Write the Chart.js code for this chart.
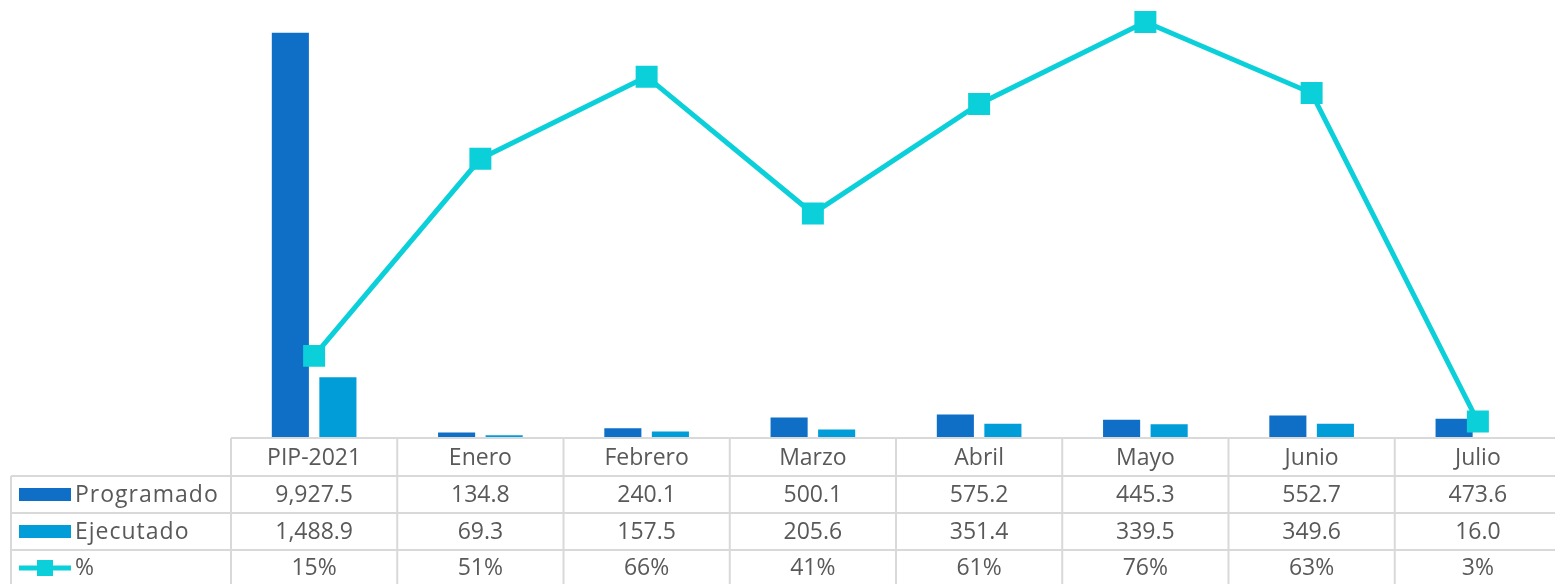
<!DOCTYPE html>
<html>
<head>
<meta charset="utf-8">
<script src="https://cdn.jsdelivr.net/npm/chart.js@4"></script>
<style>
  html, body { margin: 0; padding: 0; background: #fff; overflow: hidden; }
  canvas { display: block; }
</style>
</head>
<body>
<canvas id="chart" width="1561" height="584"></canvas>
<script>
var categories = ["PIP-2021", "Enero", "Febrero", "Marzo", "Abril", "Mayo", "Junio", "Julio"];
var programado = [9927.5, 134.8, 240.1, 500.1, 575.2, 445.3, 552.7, 473.6];
var ejecutado = [1488.9, 69.3, 157.5, 205.6, 351.4, 339.5, 349.6, 16.0];
var porcentaje = [15, 51, 66, 41, 61, 76, 63, 3];

var colProg = "#0F6FC6";
var colEjec = "#009DD9";
var colPct = "#0BD0D9";
var gridCol = "#D9D9D9";
var textCol = "#595959";
var fontFam = "'Open Sans', sans-serif";

function fmt(v) {
    return v.toLocaleString("en-US", { minimumFractionDigits: 1, maximumFractionDigits: 1 });
}

// data table under the plot, columns taken from the x scale
var dataTable = {
    id: "dataTable",
    afterDraw: function(chart) {
        var ctx = chart.ctx;
        var x = chart.scales.x;
        var area = chart.chartArea;
        var step = (area.right - area.left) / categories.length;
        var rowTops = [438, 476, 513, 550];
        var leftX = 11;
        ctx.save();
        ctx.strokeStyle = gridCol;
        ctx.lineWidth = 2;
        ctx.beginPath();
        ctx.moveTo(area.left, rowTops[0]); ctx.lineTo(area.right, rowTops[0]);
        for (var r = 1; r < rowTops.length; r++) {
            ctx.moveTo(leftX, rowTops[r]); ctx.lineTo(area.right, rowTops[r]);
        }
        for (var i = 0; i < categories.length; i++) {
            var vx = area.left + i * step;
            ctx.moveTo(vx, rowTops[0]); ctx.lineTo(vx, 584);
        }
        ctx.moveTo(leftX, rowTops[1]); ctx.lineTo(leftX, 584);
        ctx.stroke();

        ctx.fillStyle = textCol;
        ctx.font = "23px " + fontFam;
        ctx.textAlign = "center";
        ctx.textBaseline = "middle";
        for (var c = 0; c < categories.length; c++) {
            var cx = x.getPixelForValue(c);
            ctx.fillText(categories[c], cx, 458);
            ctx.fillText(fmt(programado[c]), cx, 495);
            ctx.fillText(fmt(ejecutado[c]), cx, 532);
            ctx.fillText(porcentaje[c] + "%", cx, 568);
        }

        // legend keys
        ctx.textAlign = "left";
        ctx.fillStyle = colProg;
        ctx.fillRect(19, 488, 52, 13);
        ctx.fillStyle = colEjec;
        ctx.fillRect(19, 525, 52, 13);
        ctx.strokeStyle = colPct;
        ctx.lineWidth = 5;
        ctx.beginPath();
        ctx.moveTo(19, 568); ctx.lineTo(71, 568);
        ctx.stroke();
        ctx.fillStyle = colPct;
        ctx.fillRect(37, 560, 16, 16);
        ctx.fillStyle = textCol;
        ctx.letterSpacing = "1px";
        ctx.fillText("Programado", 75, 495);
        ctx.fillText("Ejecutado", 75, 532);
        ctx.fillText("%", 75, 568);
        ctx.restore();
    }
};

new Chart(document.getElementById("chart"), {
    type: "bar",
    data: {
        labels: categories,
        datasets: [{
            type: "line",
            label: "%",
            data: porcentaje,
            yAxisID: "y1",
            borderColor: colPct,
            backgroundColor: colPct,
            borderWidth: 5,
            pointStyle: "rect",
            pointRadius: 12,
            pointHoverRadius: 12,
            tension: 0,
            clip: false,
            order: 0
        }, {
            label: "Programado",
            data: programado,
            backgroundColor: colProg,
            categoryPercentage: 0.572,
            barPercentage: 0.78,
            order: 1
        }, {
            label: "Ejecutado",
            data: ejecutado,
            backgroundColor: colEjec,
            categoryPercentage: 0.572,
            barPercentage: 0.78,
            order: 1
        }]
    },
    options: {
        responsive: false,
        animation: false,
        layout: { autoPadding: false, padding: { left: 231, right: 0, top: 0, bottom: 146 } },
        plugins: {
            legend: { display: false },
            tooltip: { enabled: false }
        },
        scales: {
            x: { display: false, offset: true },
            y: { display: false, min: 0, max: 10730 },
            y1: { display: false, min: 0, max: 80, position: "right" }
        }
    },
    plugins: [dataTable]
});
</script>
</body>
</html>
